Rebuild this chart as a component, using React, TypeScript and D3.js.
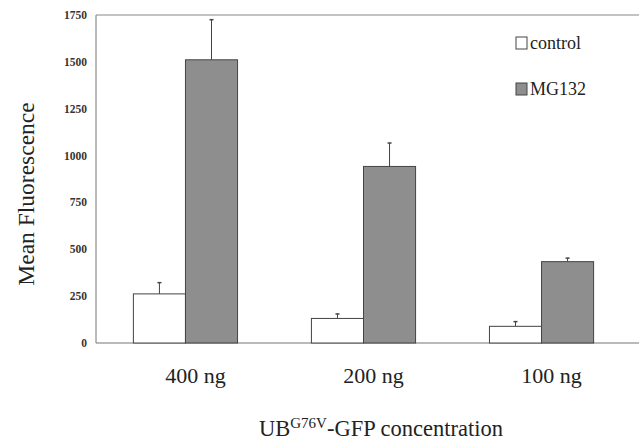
import React from 'react'
import * as d3 from 'd3'

const categories = ['400 ng', '200 ng', '100 ng']
const seriesNames = ['control', 'MG132']
const controlValues = [262, 131, 89]
const controlErrors = [60, 24, 25]
const mg132Values = [1511, 942, 434]
const mg132Errors = [214, 125, 19]
const yTicks = [0, 250, 500, 750, 1000, 1250, 1500, 1750]

const W = 639
const H = 440
const fillColors = ['#ffffff', '#8e8e8e']
const font = { fontFamily: "'Liberation Serif'" }

const left = 96, top = 15, bottom = 343, right = 631

function App() {
    const x0 = d3.scaleBand().domain(categories).range([left, right]).paddingInner(0.415).paddingOuter(0.21)
    const x1 = d3.scaleBand().domain(seriesNames).range([0, x0.bandwidth()])
    const y = d3.scaleLinear().domain([0, 1750]).range([bottom, top])

    const rows = categories.map((c, i) => [
        { s: 'control', v: controlValues[i], e: controlErrors[i] },
        { s: 'MG132', v: mg132Values[i], e: mg132Errors[i] }
    ])

    return (
        <svg width={W} height={H} style={{ position: 'absolute', left: 0, top: 0, background: '#fff' }}>
            {/* frame */}
            <line x1={left} x2={left} y1={top} y2={bottom} stroke="#777" strokeWidth={1} />
            <line x1={left} x2={W} y1={top} y2={top} stroke="#888" strokeWidth={1.2} />
            <line x1={left} x2={W} y1={bottom} y2={bottom} stroke="#777" strokeWidth={1.2} />

            {/* y tick labels */}
            {yTicks.map(t => (
                <text key={t} x={87} y={y(t) + 4} textAnchor="end" fontSize={11.5} fontWeight="bold"
                    fill="#333" style={font}>{t}</text>
            ))}

            {/* bars + error bars */}
            {rows.map((row, i) => (
                <g key={categories[i]} transform={`translate(${x0(categories[i])},0)`}>
                    {row.map((d, j) => {
                        const cx = x1(d.s) + x1.bandwidth() / 2
                        return (
                            <g key={d.s}>
                                <line x1={cx} x2={cx} y1={y(d.v)} y2={y(d.v + d.e)} stroke="#444" strokeWidth={1} />
                                <line x1={cx - 2} x2={cx + 2} y1={y(d.v + d.e)} y2={y(d.v + d.e)} stroke="#444" strokeWidth={1.5} />
                                <rect x={x1(d.s)} y={y(d.v)} width={x1.bandwidth()} height={bottom - y(d.v)}
                                    fill={fillColors[j]} stroke="#444" strokeWidth={1} />
                            </g>
                        )
                    })}
                </g>
            ))}

            {/* category labels */}
            {categories.map(c => (
                <text key={c} x={x0(c) + x0.bandwidth() / 2 + 10} y={383} textAnchor="middle"
                    fontSize={22} fill="#222" style={font}>{c}</text>
            ))}

            {/* axis titles */}
            <text transform="translate(34,194) rotate(-90)" textAnchor="middle" fontSize={23.5}
                fill="#222" style={font}>Mean Fluorescence</text>
            <text x={381} y={436} textAnchor="middle" fontSize={22.5} fill="#222" style={font}>
                <tspan>UB</tspan>
                <tspan dy={-8} fontSize={15}>G76V</tspan>
                <tspan dy={8}>-GFP concentration</tspan>
            </text>

            {/* legend */}
            {seriesNames.map((s, i) => (
                <g key={s} transform={`translate(516,${37 + i * 46})`}>
                    <rect width={11} height={12} fill={fillColors[i]} stroke="#444" strokeWidth={1} />
                    <text x={14} y={12} fontSize={18} fill="#222" style={font}>{s}</text>
                </g>
            ))}
        </svg>
    )
}

export default App
